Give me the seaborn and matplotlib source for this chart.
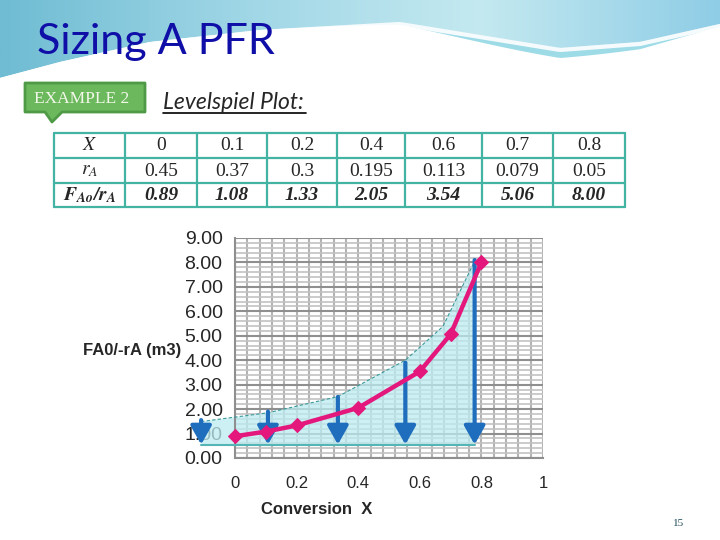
import numpy as np
import pandas as pd
import matplotlib.pyplot as plt
import matplotlib.patches as mpatches
from matplotlib.ticker import MultipleLocator, FormatStrFormatter
import seaborn as sns

# Levenspiel verileri
conversion = [0, 0.1, 0.2, 0.4, 0.6, 0.7, 0.8]
rate_a = ["0.45", "0.37", "0.3", "0.195", "0.113", "0.079", "0.05"]
fa0_ra = [0.89, 1.08, 1.33, 2.05, 3.54, 5.06, 8.00]
x_labels = ["0", "0.1", "0.2", "0.4", "0.6", "0.7", "0.8"]

# PFR yaklaşımı: gölgeli alan ve oklar (slayttaki çizim)
shade_x = [-0.11, 0.107, 0.334, 0.553, 0.675, 0.778]
shade_top = [1.49, 1.85, 2.51, 4.0, 5.38, 8.05]
shade_bottom = 0.53
arrow_x = [-0.11, 0.107, 0.334, 0.553, 0.778]
arrow_top = [1.55, 1.9, 2.5, 3.9, 8.1]
arrow_tip = 0.55

sns.set_style("white")
plt.rcParams["font.family"] = ["Liberation Sans", "DejaVu Sans"]
plt.rcParams["mathtext.fontset"] = "stix"

fig = plt.figure(figsize=(7.2, 5.4), dpi=100)

# arka plan (piksel koordinatları)
bg = fig.add_axes([0, 0, 1, 1])
bg.set_xlim(0, 720)
bg.set_ylim(540, 0)
bg.axis("off")

xs = np.linspace(0, 720, 200)
wave = np.interp(xs, [0, 60, 150, 260, 400, 480, 560, 640, 720],
                 [78, 62, 42, 30, 22, 35, 48, 42, 24])
grad = np.linspace(0, 1, 256).reshape(1, -1)
sky = plt.cm.colors.LinearSegmentedColormap.from_list(
    "sky", ["#6fbcd3", "#9fd6e6", "#c4e9f0", "#8fcde6"])
im = bg.imshow(grad, extent=[0, 720, 90, 0], cmap=sky, aspect="auto", zorder=0)
poly = mpatches.Polygon(np.column_stack([np.r_[xs, 720, 0], np.r_[wave, 0, 0]]),
                        closed=True, transform=bg.transData)
im.set_clip_path(poly)
bg.fill_between(xs, wave, wave + 10 * np.exp(-((xs - 560) / 140) ** 2), color="#5cc3d8", alpha=0.6, lw=0)
bg.plot(xs, wave + 2, color="white", lw=3, alpha=0.9)

# başlık
bg.text(37, 54, "Sizing A PFR", fontsize=31, color="#0f0fa8", family=["Lato", "DejaVu Sans"],
        va="baseline")

# EXAMPLE 2 kutusu
callout = mpatches.Polygon([[25, 83], [145, 83], [145, 112], [62, 112], [52, 122], [45, 112], [25, 112]],
                           closed=True, fc="#6cb85c", ec="#4f9a46", lw=2, joinstyle="round")
bg.add_patch(callout)
bg.text(82, 99, "EXAMPLE 2", fontsize=12.5, color="#f2f7ea", ha="center", va="center",
        family=["Liberation Serif", "DejaVu Serif"])

bg.text(163, 109, "Levelspiel Plot:", fontsize=16.5, style="italic", va="baseline",
        family=["Lato", "DejaVu Sans"])
bg.plot([163, 306], [112.5, 112.5], color="black", lw=1.2)

# tablo
col_edges = [54, 125, 197, 267, 337, 405, 482, 553, 625]
row_edges = [133, 158, 183, 207]
teal = "#43b3a3"
for cx in col_edges:
    bg.plot([cx, cx], [row_edges[0], row_edges[-1]], color=teal, lw=1.6)
for ry in row_edges:
    bg.plot([col_edges[0], col_edges[-1]], [ry, ry], color=teal, lw=1.6)

serif = ["Liberation Serif", "DejaVu Serif"]
headers = [r"$X$", r"$r_A$", r"$\mathbfit{F_{Ao}/r_A}$"]
for i, h in enumerate(headers):
    cy = (row_edges[i] + row_edges[i + 1]) / 2
    bg.text((col_edges[0] + col_edges[1]) / 2, cy, h, fontsize=14, ha="center", va="center")
for j in range(len(conversion)):
    cx = (col_edges[j + 1] + col_edges[j + 2]) / 2
    bg.text(cx, 146, x_labels[j], fontsize=14, ha="center", va="center", family=serif)
    bg.text(cx, 171, rate_a[j], fontsize=14, ha="center", va="center", family=serif)
    bg.text(cx, 195, f"{fa0_ra[j]:.2f}", fontsize=14, ha="center", va="center", family=serif,
            style="italic", weight="bold")

bg.text(679, 523, "15", fontsize=8, color="#1d4b5a", ha="center", va="center", family=serif)

# grafik
ax = fig.add_axes([235 / 720, 82 / 540, 308 / 720, 220 / 540])
ax.set_xlim(0, 1)
ax.set_ylim(0, 9)
ax.patch.set_alpha(0)

ax.xaxis.set_major_locator(MultipleLocator(0.2))
ax.xaxis.set_minor_locator(MultipleLocator(0.04))
ax.yaxis.set_major_locator(MultipleLocator(1))
ax.yaxis.set_minor_locator(MultipleLocator(0.2))
ax.yaxis.set_major_formatter(FormatStrFormatter("%.2f"))
ax.set_xticks([0, 0.2, 0.4, 0.6, 0.8, 1])
ax.set_xticklabels(["0", "0.2", "0.4", "0.6", "0.8", "1"])
ax.grid(which="major", axis="x", color="#b3b3b3", lw=1.5)
ax.grid(which="minor", axis="x", color="#b3b3b3", lw=1.5)
ax.grid(which="major", axis="y", color="#8f8f8f", lw=1.5)
ax.grid(which="minor", axis="y", color="#c2c2c2", lw=1.2)
ax.set_axisbelow(True)
for s in ["top", "right"]:
    ax.spines[s].set_visible(False)
for s in ["left", "bottom"]:
    ax.spines[s].set_color("#8f8f8f")
    ax.spines[s].set_linewidth(1.5)
ax.tick_params(which="major", direction="out", length=5, color="#8f8f8f", width=1.2)
ax.tick_params(which="minor", length=0)
ax.tick_params(axis="y", labelsize=14, pad=4)
ax.tick_params(axis="x", labelsize=12, pad=8)

# gölgeli alan
px = shade_x + [shade_x[-1], shade_x[0]]
py = shade_top + [shade_bottom, shade_bottom]
ax.fill(px, py, color="#bdecf2", alpha=0.75, lw=0, clip_on=False, zorder=2)
ax.plot(shade_x, shade_top, color="#3b9a9a", lw=0.8, ls=(0, (3, 2)), clip_on=False, zorder=3)
ax.plot([shade_x[0], shade_x[-1]], [shade_bottom, shade_bottom], color="#55b5b5", lw=1.5,
        clip_on=False, zorder=3)

for xa, ya in zip(arrow_x, arrow_top):
    ax.annotate("", xy=(xa, arrow_tip), xytext=(xa, ya), annotation_clip=False, zorder=4,
                arrowprops=dict(arrowstyle="-|>,head_length=0.8,head_width=0.45", lw=3,
                                color="#1f6dbd", mutation_scale=14, shrinkA=0, shrinkB=0))

df = pd.DataFrame({"X": conversion, "FA0/-rA": fa0_ra})
sns.lineplot(data=df, x="X", y="FA0/-rA", ax=ax, color="#e4187c", lw=3.2, marker="D",
             markersize=7, markeredgecolor="#e4187c", zorder=5, clip_on=False)
ax.set_xlabel("")
ax.set_ylabel("")

fig.text(83 / 720, 1 - 350 / 540, "FA0/-rA (m3)", fontsize=12, weight="bold", va="center")
fig.text(317 / 720, 1 - 510 / 540, "Conversion  X", fontsize=12, weight="bold", ha="center",
         va="center")

fig.savefig("out.png", dpi=100)
